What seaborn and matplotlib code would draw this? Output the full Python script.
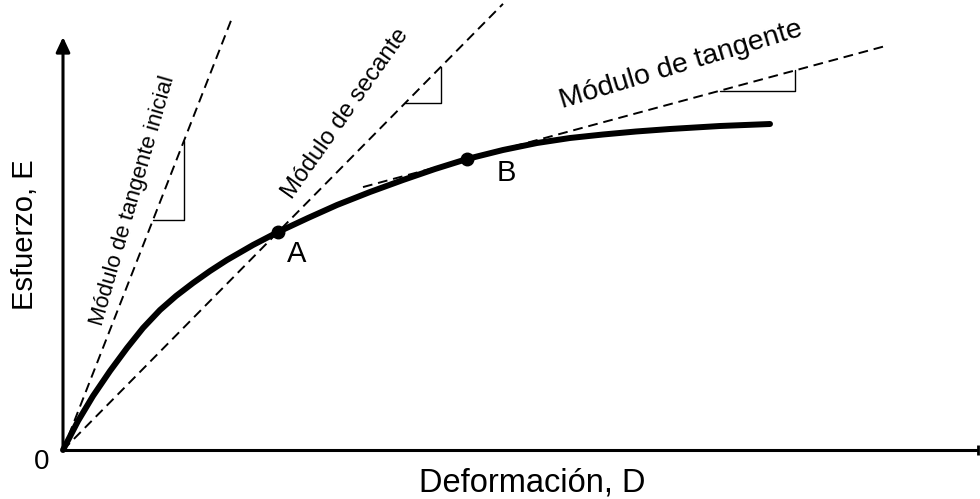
import numpy as np
import pandas as pd
import matplotlib
matplotlib.use("Agg")
import matplotlib.pyplot as plt
import seaborn as sns

# curva esfuerzo-deformacion (unidades arbitrarias)
deformacion = [0, 15, 30, 47, 64, 80, 97, 113, 130, 147, 164, 190, 215, 245,
               274, 307, 340, 372, 404, 440, 474, 507, 540, 573, 607, 657, 707]
esfuerzo = [0, 29, 54, 79, 102, 122, 140, 154, 167, 179, 190, 205, 218, 232,
            245, 258, 270, 281, 291, 300, 307, 312, 315.5, 318.5, 321, 324, 326]

# puntos A y B
puntos_D = [215, 404]
puntos_E = [218, 291]
puntos_txt = ["A", "B"]

# pendientes de las rectas
pend_inicial = 2.556
pend_secante = 218 / 215
pend_tangente = 0.27

sns.set_theme(style="white")
plt.rcParams["font.family"] = ["Liberation Sans", "DejaVu Sans"]
plt.rcParams["text.color"] = "black"

fig = plt.figure(figsize=(9.8, 4.99), dpi=100)
ax = fig.add_axes([0, 0, 1, 1])
ax.set_xlim(-63, 917)
ax.set_ylim(-49, 450)
ax.axis("off")

# ejes con flecha
ax.annotate("", xy=(0, 413), xytext=(0, 0),
            arrowprops=dict(arrowstyle="-|>,head_width=0.35,head_length=0.75",
                            lw=2.2, color="black", shrinkA=0, shrinkB=0))
ax.plot([0, 915], [0, 0], color="black", lw=2.2, solid_capstyle="butt")
ax.plot([915], [0], marker="|", ms=7, mew=2, color="black")

# rectas discontinuas
d_ini = np.array([0, 169])
d_sec = np.array([0, 440])
d_tan = np.array([300, 825])
estilo = dict(color="black", lw=1.4, dashes=(5, 3))
ax.plot(d_ini, pend_inicial * d_ini, **estilo)
ax.plot(d_sec, pend_secante * d_sec, **estilo)
ax.plot(d_tan, puntos_E[1] + pend_tangente * (d_tan - puntos_D[1]), **estilo)

# triangulos de pendiente
def triangulo(d0, run, f):
    e0 = f(d0)
    ax.plot([d0, d0 + run, d0 + run], [e0, e0, f(d0 + run)], color="black", lw=1.0)

triangulo(90, 31, lambda d: pend_inicial * d)
triangulo(342, 36, lambda d: pend_secante * d)
triangulo(657, 75, lambda d: puntos_E[1] + pend_tangente * (d - puntos_D[1]))

# curva
df = pd.DataFrame({"D": deformacion, "E": esfuerzo})
sns.lineplot(data=df, x="D", y="E", sort=False, color="black", lw=4.3, ax=ax)
ax.plot(puntos_D, puntos_E, "o", color="black", ms=9)

ax.text(234, 196, puntos_txt[0], fontsize=21, ha="center", va="center")
ax.text(443, 277, puntos_txt[1], fontsize=21, ha="center", va="center")
ax.text(-21, -12, "0", fontsize=20, ha="center", va="center")
ax.text(469, -33, "Deformación, D", fontsize=23.5, ha="center", va="center")
ax.text(-38, 215, "Esfuerzo, E", fontsize=21, ha="center", va="center", rotation=90)

ax.text(75, 248, "Módulo de tangente inicial", fontsize=16, rotation=73.9,
        rotation_mode="anchor", ha="center", va="baseline")
ax.text(287, 333, "Módulo de secante", fontsize=17.3, rotation=54.8,
        rotation_mode="anchor", ha="center", va="baseline")
ax.text(620, 378, "Módulo de tangente", fontsize=20.5, rotation=16.8,
        rotation_mode="anchor", ha="center", va="baseline")

fig.savefig("out.png", dpi=100)
